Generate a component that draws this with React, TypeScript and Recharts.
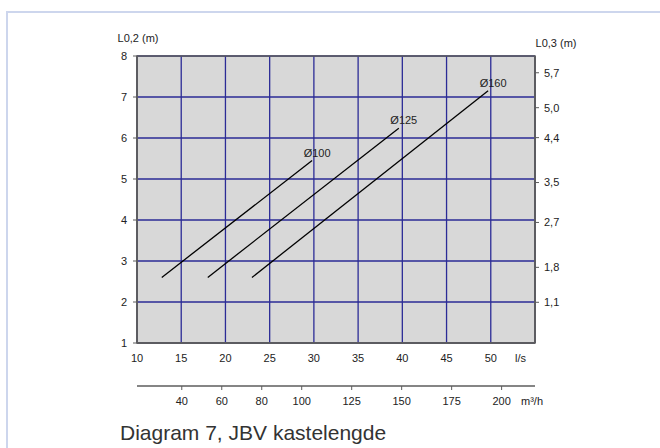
import {
  CartesianGrid,
  ComposedChart,
  LabelList,
  Line,
  ReferenceArea,
  XAxis,
  YAxis,
} from "recharts";

// flow in l/s (primary x axis) and in m³/h (secondary x axis)
const lsTicks = [10, 15, 20, 25, 30, 35, 40, 45, 50];
const m3hTicks = [40, 60, 80, 100, 125, 150, 175, 200];

// L0,2 (left) and L0,3 (right) in metres
const leftTicks = [1, 2, 3, 4, 5, 6, 7, 8];
const rightTicks = [1.1, 1.8, 2.7, 3.5, 4.4, 5.0, 5.7];

// one straight line per duct diameter
const seriesNames = ["Ø100", "Ø125", "Ø160"];
const startFlow = [12.8, 18.0, 23.0];
const endFlow = [29.8, 39.6, 49.7];
const startLength = [2.6, 2.6, 2.6];
const endLength = [5.45, 6.24, 7.15];

const FONT = '"Liberation Sans", Arial, sans-serif';
const AXIS = "#5c5c5c";
const GRID = "#2b2b96";

const tickStyle = { fontSize: 11, fill: "#222", fontFamily: FONT };

const series = seriesNames.map((name, i) => ({
  name,
  points: [
    { x: startFlow[i], y: startLength[i] },
    { x: endFlow[i], y: endLength[i] },
  ],
}));

const comma = (v: number) => v.toFixed(1).replace(".", ",");

export default function App() {
  return (
    <div
      style={{
        position: "absolute",
        left: 0,
        top: 0,
        width: 660,
        height: 448,
        background: "#fff",
        overflow: "hidden",
        fontFamily: FONT,
      }}
    >
      <div
        style={{
          position: "absolute",
          left: 6,
          top: 11,
          width: 700,
          height: 500,
          borderTop: "2px solid #cdd6ed",
          borderLeft: "2px solid #cdd6ed",
        }}
      />
      <ComposedChart
        width={660}
        height={448}
        margin={{ top: 56, right: 85, left: 97, bottom: 32 }}
        style={{ position: "absolute", left: 0, top: 0 }}
      >
        <CartesianGrid fill="#d8d8d8" stroke={GRID} strokeWidth={1.3} />
        <XAxis
          dataKey="x"
          type="number"
          domain={[10, 55]}
          ticks={lsTicks}
          interval={0}
          allowDataOverflow
          height={43}
          tickSize={0}
          tickMargin={11}
          tickLine={false}
          axisLine={{ stroke: AXIS, strokeWidth: 1.5 }}
          tick={tickStyle}
          label={{
            value: "l/s",
            position: "insideTopRight",
            offset: 9,
            dy: 2,
            style: tickStyle,
          }}
        />
        <XAxis
          xAxisId="m3h"
          dataKey="m3h"
          type="number"
          domain={[17.6, 216.7]}
          ticks={m3hTicks}
          interval={0}
          allowDataOverflow
          height={30}
          tickSize={4}
          tickMargin={7}
          tickLine={{ stroke: AXIS }}
          axisLine={{ stroke: AXIS, strokeWidth: 1.5 }}
          tick={tickStyle}
          label={{
            value: "m³/h",
            position: "insideTopRight",
            offset: 0,
            dx: 8,
            dy: 11,
            style: tickStyle,
          }}
        />
        <YAxis
          type="number"
          domain={[1, 8]}
          ticks={leftTicks}
          interval={0}
          allowDataOverflow
          width={40}
          tickSize={4}
          tickMargin={6}
          tickLine={{ stroke: AXIS }}
          axisLine={{ stroke: AXIS, strokeWidth: 1.5 }}
          tick={tickStyle}
          label={{
            value: "L0,2 (m)",
            position: "top",
            offset: 14,
            dx: 21,
            style: tickStyle,
          }}
        />
        <YAxis
          yAxisId="right"
          orientation="right"
          type="number"
          domain={[0.284, 6.036]}
          ticks={rightTicks}
          interval={0}
          allowDataOverflow
          width={40}
          tickSize={4}
          tickMargin={5}
          tickLine={{ stroke: AXIS }}
          axisLine={{ stroke: AXIS, strokeWidth: 1.5 }}
          tick={tickStyle}
          tickFormatter={comma}
          label={{
            value: "L0,3 (m)",
            position: "top",
            offset: 9,
            dx: 1,
            style: tickStyle,
          }}
        />
        <ReferenceArea
          x1={10}
          x2={55}
          y1={1}
          y2={8}
          fill="none"
          stroke={AXIS}
          strokeWidth={1.5}
        />
        {series.map((s) => (
          <Line
            key={s.name}
            data={s.points}
            dataKey="y"
            type="linear"
            stroke="#000"
            strokeWidth={1.3}
            dot={false}
            activeDot={false}
            isAnimationActive={false}
          >
            <LabelList
              dataKey="y"
              content={(props: any) =>
                props.index === s.points.length - 1 ? (
                  <text
                    x={Number(props.x) + 5}
                    y={Number(props.y) - 4}
                    textAnchor="middle"
                    style={tickStyle}
                  >
                    {s.name}
                  </text>
                ) : null
              }
            />
          </Line>
        ))}
      </ComposedChart>
      <div
        style={{
          position: "absolute",
          left: 120,
          top: 421,
          fontSize: 21,
          color: "#333",
          whiteSpace: "nowrap",
        }}
      >
        Diagram 7, JBV kastelengde
      </div>
    </div>
  );
}
